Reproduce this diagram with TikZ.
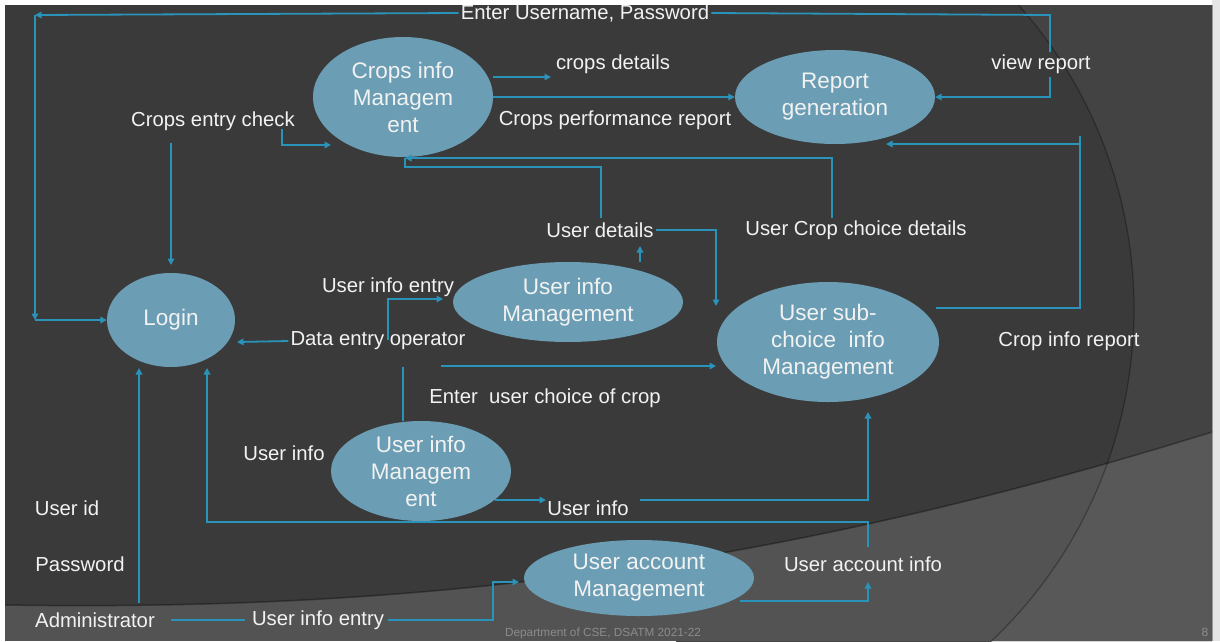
\documentclass[tikz,border=0pt]{standalone}
\usepackage{fontspec}
\setmainfont{Liberation Sans}
\usetikzlibrary{shapes.geometric,arrows.meta}
\definecolor{slidebg}{HTML}{3A3A3A}
\definecolor{slideout}{HTML}{434343}
\definecolor{bandin}{HTML}{535353}
\definecolor{bandout}{HTML}{585858}
\definecolor{procfill}{HTML}{6B9EB4}
\definecolor{flow}{HTML}{2A93BA}
\definecolor{txt}{HTML}{F2F2F2}
\definecolor{foot}{HTML}{8C8C8C}
\definecolor{rim}{HTML}{E6E6E6}

\begin{document}
\begin{tikzpicture}[x=1pt,y=-1pt,
  proc/.style={ellipse,fill=procfill,draw=none,inner sep=0pt,text=txt,align=center,
               font=\fontsize{22.5}{27}\selectfont},
  lbl/.style={text=txt,inner sep=2pt,font=\fontsize{20.3}{23}\selectfont},
  footlbl/.style={text=foot,inner sep=0pt,font=\fontsize{11.8}{13}\selectfont},
  line/.style={draw=flow,line width=1.8pt},
  arr/.style={line,-{Triangle[length=6.5pt,width=6.5pt]}}]

% ---------- slide background ----------
\useasboundingbox (0,0) rectangle (1220,641);
\fill[white] (0,0) rectangle (1220,641);
\fill[rim] (1212,0) rectangle (1220,641);
\draw[gray!70,line width=0.8pt] (1212,5) -- (1212,641);
\begin{scope}
  \clip (5,5) rectangle (1212,641);
  \fill[slidebg] (5,5) rectangle (1212,641);
  % lighter field to the right of the large arc
  \begin{scope}
    \clip (676,5) rectangle (1212,641);
    \fill[slideout,even odd rule] (676,5) rectangle (1212,641) (676,309) circle (458);
  \end{scope}
  % lighter band along the bottom
  \begin{scope}
    \clip (5,605) .. controls (450,612) and (800,560) .. (1212,432) -- (1212,641) -- (5,641) -- cycle;
    \fill[bandin] (5,400) rectangle (1212,641);
    \clip (676,5) rectangle (1212,641);
    \fill[bandout,even odd rule] (676,5) rectangle (1212,641) (676,309) circle (458);
  \end{scope}
  \draw[black,opacity=0.35,line width=1.5pt]
    (5,605) .. controls (450,612) and (800,560) .. (1212,432);
  \draw[black,opacity=0.3,line width=1.2pt] (676,309) ++(-42:458) arc (-42:47:458);
\end{scope}

% ---------- processes ----------
\node[proc,minimum width=180pt,minimum height=120pt] (crops)  at (403,97)  {Crops info\\Managem\\ent};
\node[proc,minimum width=200pt,minimum height=94pt]  (report) at (835,97)  {Report\\generation};
\node[proc,minimum width=128pt,minimum height=94pt]  (login)  at (171,320) {Login};
\node[proc,minimum width=230pt,minimum height=80pt]  (uimA)   at (568,302) {User info\\Management};
\node[proc,minimum width=222pt,minimum height=120pt] (sub)    at (828,342) {User sub-\\choice\ \ info\\Management};
\node[proc,minimum width=180pt,minimum height=100pt] (uimB)   at (421,471) {User info\\Managem\\ent};
\node[proc,minimum width=230pt,minimum height=76pt]  (uam)    at (639,578) {User account\\Management};

% ---------- data flow labels ----------
\node[lbl] (enter)   at (585,13)  {Enter Username, Password};
\node[lbl] (cdet)    at (613,64)  {crops details};
\node[lbl] (cperf)   at (615,120) {Crops performance report};
\node[lbl] (view)    at (1041,64) {view report};
\node[lbl] (cec)     at (213,121) {Crops entry check};
\node[lbl] (udet)    at (600,230) {User details};
\node[lbl] (ucc)     at (856,230) {User Crop choice details};
\node[lbl] (uieA)    at (388,287) {User info entry};
\node[lbl] (deo)     at (378,341) {Data entry operator};
\node[lbl] (cir)     at (1069,341) {Crop info report};
\node[lbl] (euc)     at (545,398) {Enter\ \ user choice of crop};
\node[lbl] (uiL)     at (284,453) {User info};
\node[lbl] (uid)     at (67,508)  {User id};
\node[lbl] (uiM)     at (588,508) {User info};
\node[lbl] (pwd)     at (80,564)  {Password};
\node[lbl] (uai)     at (863,564) {User account info};
\node[lbl] (admin)   at (95,620)  {Administrator};
\node[lbl] (uieB)    at (318,620) {User info entry};
\node[footlbl] (dept) at (603,633) {Department of CSE, DSATM 2021-22};
\node[footlbl,font=\fontsize{12}{14}\selectfont] (pg) at (1205,632) {8};

% ---------- bend points ----------
\coordinate (tl)  at (35,15);
\coordinate (bl)  at (35,320);
\coordinate (tr)  at (1050,15);
\coordinate (vrA) at (1050,52);
\coordinate (vrB) at (1050,77);
\coordinate (cdA) at (493,77);
\coordinate (cdB) at (551,77);
\coordinate (ceA) at (282,129);
\coordinate (ceB) at (331,145);
\coordinate (ceC) at (171,143);
\coordinate (ceD) at (171,265);
\coordinate (uccA) at (832,218);
\coordinate (crB)  at (405,158);
\coordinate (udA)  at (601,218);
\coordinate (udB)  at (405,167);
\coordinate (udD)  at (716,306);
\coordinate (umA)  at (640,262);
\coordinate (umB)  at (640,246);
\coordinate (ueA)  at (388,340);
\coordinate (ueB)  at (443,299);
\coordinate (deoB) at (237,342);
\coordinate (vkA)  at (403,367);
\coordinate (vkB)  at (403,421);
\coordinate (ecA)  at (441,366);
\coordinate (ecB)  at (716,366);
\coordinate (uiA)  at (495,500);
\coordinate (uiB)  at (546,500);
\coordinate (uiC)  at (640,500);
\coordinate (uiD)  at (868,412);
\coordinate (uaA)  at (868,547);
\coordinate (uaB)  at (207,522);
\coordinate (uaC)  at (207,368);
\coordinate (amA)  at (740,601);
\coordinate (amB)  at (868,582);
\coordinate (adA)  at (139,603);
\coordinate (adB)  at (139,368);
\coordinate (adC)  at (171,620);
\coordinate (adD)  at (245,620);
\coordinate (ubA)  at (388,620);
\coordinate (ubB)  at (493,620);
\coordinate (ubC)  at (519,582);
\coordinate (srA)  at (936,308);
\coordinate (srB)  at (1080,136);
\coordinate (srC)  at (1080,144);
\coordinate (srD)  at (886,144);

% ---------- data flows ----------
% login credentials loop
\draw[line] (enter.east) -- (tr) -- (vrA);
\draw[arr]  (vrB) |- (report.east);
\draw[arr]  (enter.west) -- (tl);
\draw[arr]  (tl) -- (bl);
\draw[arr]  (bl) -- (login.west);
% crops info outputs
\draw[arr]  (cdA) -- (cdB);
\draw[arr]  (crops.east) -- (crops.east -| report.west);
% crops entry check
\draw[arr]  (ceA) |- (ceB);
\draw[arr]  (ceC) -- (ceD);
% feedback to crops info
\draw[arr]  (uccA) |- (crB);
\draw[line] (udA) |- (udB) -- (crB);
\draw[arr]  (udet.east) -| (udD);
\draw[arr]  (umA) -- (umB);
% user info entry and data entry operator
\draw[arr]  (ueA) |- (ueB);
\draw[arr]  (deo.west) -- (deoB);
\draw[line] (vkA) -- (vkB);
\draw[arr]  (ecA) -- (ecB);
% user info to sub-choice
\draw[arr]  (uiA) -- (uiB);
\draw[arr]  (uiC) -| (uiD);
% user account info back to login
\draw[arr]  (uaA) |- (uaB) -- (uaC);
\draw[arr]  (amA) -| (amB);
% administrator
\draw[arr]  (adA) -- (adB);
\draw[line] (adC) -- (adD);
\draw[arr]  (ubA) -- (ubB) |- (ubC);
% sub-choice to report
\draw[line] (srA) -| (srB);
\draw[arr]  (srC) -- (srD);

% white top and left edges of the slide
\fill[white] (0,0) rectangle (1212,4.5);
\fill[white] (0,0) rectangle (4.5,641);
\end{tikzpicture}
\end{document}
